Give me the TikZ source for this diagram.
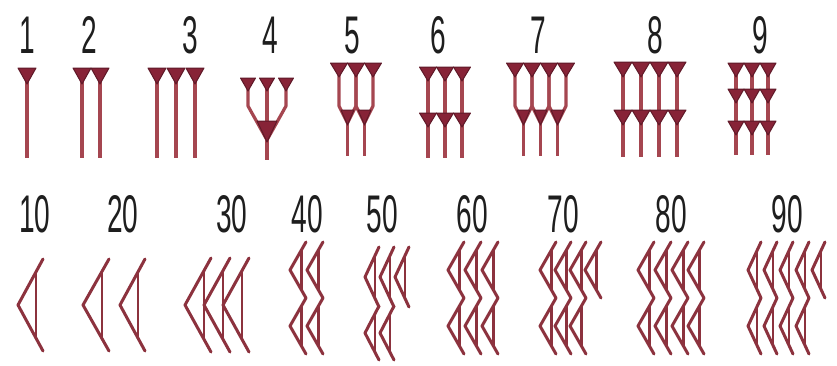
\documentclass[tikz,border=0pt]{standalone}
\usepackage{fontspec}
\newfontfamily\labfont[FakeStretch=0.53]{Liberation Sans}
\definecolor{headc}{RGB}{135,35,55}
\definecolor{edgec}{RGB}{95,25,40}
\definecolor{stemc}{RGB}{165,70,80}
\definecolor{hookc}{RGB}{140,50,62}
\definecolor{labc}{RGB}{30,30,30}
\tikzset{
  head/.style={fill=headc, draw=edgec, line width=1pt, line join=round},
  stemline/.style={draw=stemc, line width=3.2pt, line join=round},
  hookline/.style={draw=hookc, line width=3pt, line join=round, line cap=round},
  hookside/.style={draw=hookc, line width=2.2pt, line cap=round},
  numlab/.style={font=\labfont\fontsize{53}{53}\selectfont, text=labc, anchor=base, inner sep=0pt},
}
\newcommand\dish[5]{% x, ytop, yend, halfwidth, height
  \draw[stemline] (#1,#2) -- (#1,#3);
  \filldraw[head] ({#1-#4},#2) -- ({#1+#4},#2) -- (#1,{#2+#5}) -- cycle;}
\newcommand\dhead[4]{% x, ytop, halfwidth, height
  \filldraw[head] ({#1-#3},#2) -- ({#1+#3},#2) -- (#1,{#2+#4}) -- cycle;}
\newcommand\hook[4]{% x, y, w, h
  \draw[hookline] ({#1+#3},{#2-#4}) -- (#1,#2) -- ({#1+#3},{#2+#4});
  \draw[hookside] ({#1+0.72*#3},{#2-0.72*#4}) -- ({#1+0.72*#3},{#2+0.72*#4});}
\newcommand\upair[4]{% left x, right x, ytop, yend
  \draw[stemline] (#1,#3) -- (#1,106) -- ({(#1+#2)/2},123) -- (#2,106) -- (#2,#3);
  \draw[stemline] ({(#1+#2)/2},118) -- ({(#1+#2)/2},#4);
  \filldraw[head] ({(#1+#2)/2-6.5},110) -- ({(#1+#2)/2+6.5},110) -- ({(#1+#2)/2},125) -- cycle;}
\begin{document}
\begin{tikzpicture}[x=1pt,y=-1pt]
\useasboundingbox (0,0) rectangle (837,365);
\fill[white] (0,0) rectangle (837,365);

% ---- labels, top row
\node[numlab] (l1) at (27,53) {1};
\node[numlab] (l2) at (89,53) {2};
\node[numlab] (l3) at (190,53) {3};
\node[numlab] (l4) at (270,53) {4};
\node[numlab] (l5) at (352,53) {5};
\node[numlab] (l6) at (438,53) {6};
\node[numlab] (l7) at (538,53) {7};
\node[numlab] (l8) at (655,53) {8};
\node[numlab] (l9) at (760,53) {9};
% ---- labels, bottom row
\node[numlab] (l10) at (35,232) {10};
\node[numlab] (l20) at (123,232) {20};
\node[numlab] (l30) at (232,232) {30};
\node[numlab] (l40) at (307,232) {40};
\node[numlab] (l50) at (382,232) {50};
\node[numlab] (l60) at (472,232) {60};
\node[numlab] (l70) at (563,232) {70};
\node[numlab] (l80) at (671,232) {80};
\node[numlab] (l90) at (787,232) {90};

% ---- 1, 2, 3
\dish{27}{68}{158}{9}{16}
\foreach \x in {82,100} {\dish{\x}{68}{158}{9}{16}}
\foreach \x in {157,176,195} {\dish{\x}{68}{158}{9}{16}}

% ---- 4
\draw[stemline] (248,78) -- (248,106) -- (267,140) -- (286,106) -- (286,78);
\draw[stemline] (267,78) -- (267,122);
\draw[stemline] (267,138) -- (267,160);
\filldraw[head] (257,121) -- (277,121) -- (267,142) -- cycle;
\foreach \x in {248,267,286} {\dhead{\x}{78}{7.5}{13}}

% ---- 5
\upair{339}{356}{63}{156}
\upair{356}{373}{63}{156}
\foreach \x in {339,356,373} {\dhead{\x}{63}{8.5}{14}}

% ---- 6
\foreach \x in {428,445,462} {
  \dish{\x}{67}{158}{8.5}{14}
  \dhead{\x}{113}{8.5}{14}}

% ---- 7
\upair{515}{532}{63}{156}
\upair{532}{549}{63}{156}
\upair{549}{566}{63}{156}
\foreach \x in {515,532,549,566} {\dhead{\x}{63}{8.5}{14}}

% ---- 8
\foreach \x in {623,641,659,677} {
  \dish{\x}{62}{157}{9}{15}
  \dhead{\x}{110}{9}{15}}

% ---- 9
\foreach \x in {736,752,768} {
  \dish{\x}{63}{155}{8}{14}
  \dhead{\x}{89}{8}{14}
  \dhead{\x}{121}{8}{14}}

% ---- 10, 20, 30
\hook{18}{305}{25}{46}
\hook{83}{305}{26}{46}
\hook{120}{305}{25}{46}
\foreach \x in {185,204,223} {\hook{\x}{305}{26}{47}}

% ---- 40
\foreach \x in {290,307} {\hook{\x}{270}{16}{28}\hook{\x}{326}{16}{28}}
% ---- 50
\foreach \x in {365,380,395} {\hook{\x}{277}{14}{30}}
\foreach \x in {365,380} {\hook{\x}{333}{14}{27}}
% ---- 60
\foreach \x in {448,465,482} {\hook{\x}{270}{16}{28}\hook{\x}{326}{16}{28}}
% ---- 70
\foreach \x in {540,555,570,585} {\hook{\x}{270}{16}{28}}
\foreach \x in {540,555,570} {\hook{\x}{326}{16}{28}}
% ---- 80
\foreach \x in {638,655,672,688} {\hook{\x}{270}{16}{28}\hook{\x}{326}{16}{28}}
% ---- 90
\foreach \x in {748,764,780,796,812} {\hook{\x}{270}{13}{28}}
\foreach \x in {748,764,780,796} {\hook{\x}{326}{13}{28}}
\end{tikzpicture}
\end{document}
